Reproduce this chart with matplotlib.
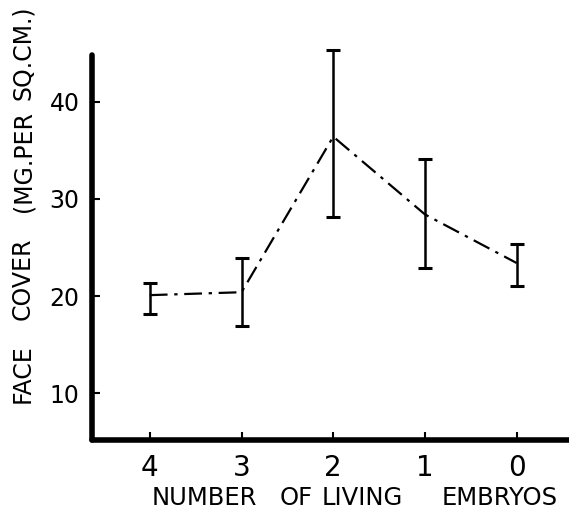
import matplotlib
matplotlib.use("Agg")
import matplotlib.pyplot as plt
import numpy as np

# Face cover vs. number of living embryos
embryos = ["4", "3", "2", "1", "0"]
face_cover = [20.1, 20.4, 36.4, 28.4, 23.4]
upper_limit = [21.4, 23.9, 45.3, 34.1, 25.4]
lower_limit = [18.2, 16.9, 28.1, 22.9, 21.0]
y_ticks = [10, 20, 30, 40]

x_words = ["NUMBER", "OF", "LIVING", "EMBRYOS"]
y_words = ["FACE", "COVER", "(MG.PER", "SQ.CM.)"]

W, H = 569, 515
x = np.arange(len(embryos))
mean = np.array(face_cover)
yerr = [mean - np.array(lower_limit), np.array(upper_limit) - mean]

fig = plt.figure(figsize=(W / 100, H / 100), dpi=100)
ax = fig.add_axes([92 / W, 1 - 440 / H, 1 - 92 / W, (440 - 55) / H])

ax.plot(x, mean, color="black", lw=1.6,
        linestyle=(0, (8, 3, 1.5, 3)))
eb = ax.errorbar(x, mean, yerr=yerr, fmt="none", ecolor="black",
                 elinewidth=1.8, capsize=5, capthick=2.2)
for artist in eb.lines[1] + eb.lines[2]:
    artist.set_clip_on(False)

ax.set_xlim(-0.63, 4.57)
ax.set_ylim(5.2, 44.8)

for side in ("top", "right"):
    ax.spines[side].set_visible(False)
for side in ("left", "bottom"):
    ax.spines[side].set_linewidth(4)
    ax.spines[side].set_capstyle("round")

ax.set_xticks(x)
ax.set_xticklabels(embryos, fontsize=20)
ax.set_yticks(y_ticks)
ax.set_yticklabels([str(v) for v in y_ticks], fontsize=17)
ax.tick_params(axis="both", direction="in", length=6, width=1.5, color="black")
ax.tick_params(axis="x", pad=10)
ax.tick_params(axis="y", pad=9)

# Axis titles, set word by word with wide spacing
x_left = [152, 280, 322, 442]
for word, left in zip(x_words, x_left):
    fig.text(left / W, 1 - 498 / H, word, ha="left", va="center", fontsize=17.5)

y_bottom = [403, 320, 212, 100]
for word, bottom in zip(y_words, y_bottom):
    fig.text(23 / W, 1 - bottom / H, word, ha="center", va="bottom",
             rotation=90, fontsize=17)

fig.savefig("out.png", dpi=100, facecolor="white")
